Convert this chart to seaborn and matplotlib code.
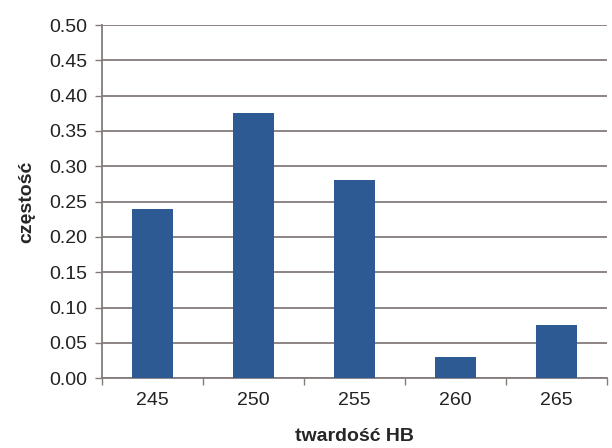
import numpy as np
import pandas as pd
import seaborn as sns
import matplotlib.pyplot as plt
from matplotlib.ticker import FixedLocator, MultipleLocator

hardness = ['245', '250', '255', '260', '265']
frequency = [0.24, 0.375, 0.28, 0.03, 0.075]

df = pd.DataFrame({'hb': hardness, 'freq': frequency})

sns.set_style('white')
plt.rcParams['font.family'] = ['Liberation Sans', 'DejaVu Sans']

fig = plt.figure(figsize=(6.12, 4.48), dpi=100)
ax = fig.add_axes([0.167, 0.156, 0.825, 0.788])

sns.barplot(data=df, x='hb', y='freq', color='#2d5a93', saturation=1,
            width=0.4, linewidth=0, ax=ax, zorder=3)

ax.set_ylim(0, 0.5)
ax.set_xlim(-0.5, len(hardness) - 0.5)
ax.yaxis.set_major_locator(MultipleLocator(0.05))
ax.yaxis.set_major_formatter(plt.FuncFormatter(lambda v, p: '{:.2f}'.format(v)))
ax.grid(axis='y', color='#857b7b', linewidth=1.3, zorder=0)
ax.set_axisbelow(True)

# ticks between categories like excel
ax.xaxis.set_minor_locator(FixedLocator(np.arange(-0.5, len(hardness), 1.0)))
ax.tick_params(axis='x', which='major', bottom=False, length=0, labelsize=14, pad=10, colors='#222222')
ax.tick_params(axis='x', which='minor', bottom=True, length=5, width=1, color='#857b7b', direction='out')
ax.tick_params(axis='y', which='major', left=True, length=5, width=1, color='#857b7b',
               direction='out', labelsize=14, pad=6, labelcolor='#222222')

for s in ['top', 'right']:
    ax.spines[s].set_visible(False)
for s in ['left', 'bottom']:
    ax.spines[s].set_color('#857b7b')
    ax.spines[s].set_linewidth(1.3)

ax.set_xlabel('twardość HB', fontsize=14, fontweight='bold', labelpad=14)
ax.set_ylabel('częstość', fontsize=14, fontweight='bold', labelpad=10)

fig.savefig('out.png', dpi=100)
